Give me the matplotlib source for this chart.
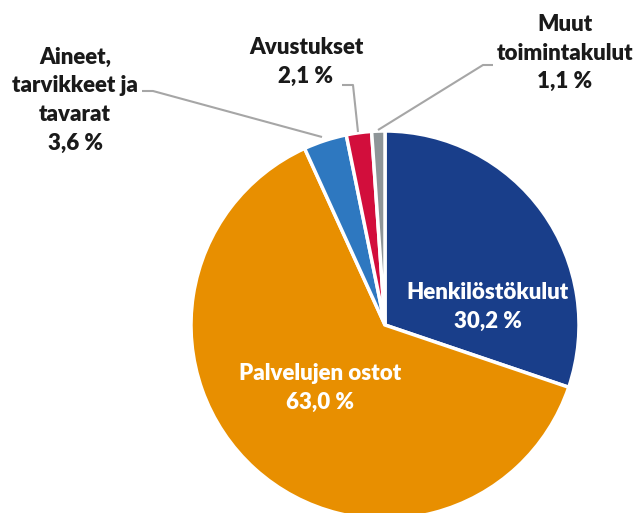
import matplotlib
matplotlib.use("Agg")
import matplotlib.pyplot as plt

categories = ["Henkilöstökulut", "Palvelujen ostot", "Aineet,\ntarvikkeet ja\ntavarat", "Avustukset", "Muut\ntoimintakulut"]
values = [30.2, 63.0, 3.6, 2.1, 1.1]
value_labels = ["30,2 %", "63,0 %", "3,6 %", "2,1 %", "1,1 %"]
colors = ["#193E8A", "#E88F00", "#2E78C0", "#D20E3C", "#8E9598"]

plt.rcParams['font.family'] = ['Lato', 'DejaVu Sans']

fig = plt.figure(figsize=(6.38, 5.13), dpi=100)
ax = fig.add_axes([0, 0, 1, 1])

H = 513
cx, cy, r = 385, H - 325, 194
wedges, _ = ax.pie(values, colors=colors, startangle=90, counterclock=False,
                   center=(cx, cy), radius=r, frame=True,
                   wedgeprops=dict(edgecolor='white', linewidth=2.5))
ax.set_xlim(0, 638)
ax.set_ylim(0, 513)
ax.set_aspect('equal')
ax.axis('off')

fs = 16
fw = 'heavy'
# inside labels
ax.text(488, H - 307, categories[0] + "\n" + value_labels[0], color='white', fontsize=fs,
        fontweight=fw, ha='center', va='center', linespacing=1.45)
ax.text(320, H - 388, categories[1] + "\n" + value_labels[1], color='white', fontsize=fs,
        fontweight=fw, ha='center', va='center', linespacing=1.45)

# outside labels
tc = '#1a1a1a'
ax.text(75, H - 100, categories[2] + "\n" + value_labels[2], color=tc, fontsize=fs,
        fontweight=fw, ha='center', va='center', linespacing=1.45)
ax.text(306, H - 62, categories[3] + "\n" + value_labels[3], color=tc, fontsize=fs,
        fontweight=fw, ha='center', va='center', linespacing=1.45)
ax.text(565, H - 53, categories[4] + "\n" + value_labels[4], color=tc, fontsize=fs,
        fontweight=fw, ha='center', va='center', linespacing=1.45)

lc = '#A6A6A6'
ax.plot([142, 153, 322], [H - 91, H - 91, H - 137], color=lc, lw=1.5, solid_capstyle='butt')
ax.plot([342, 353, 358], [H - 85, H - 85, H - 132], color=lc, lw=1.5, solid_capstyle='butt')
ax.plot([493, 483, 378], [H - 65, H - 65, H - 130], color=lc, lw=1.5, solid_capstyle='butt')

fig.savefig("out.png", dpi=100)
